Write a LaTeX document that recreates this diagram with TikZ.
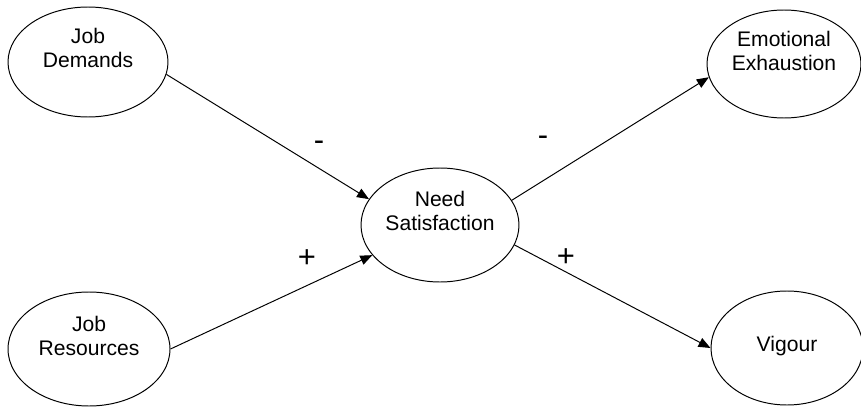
\documentclass[tikz,border=0pt]{standalone}
\usepackage{fontspec}
\setmainfont{Liberation Sans}
\usepackage{tikz}
\usetikzlibrary{shapes.geometric,arrows.meta,positioning,calc}
\tikzset{
    oval/.style={ellipse, draw=black, line width=0.7pt, inner sep=0pt},
    ovaltext/.style={align=center, font=\fontsize{15pt}{17.1pt}\selectfont},
    sign/.style={font=\fontsize{22pt}{24pt}\selectfont, inner sep=0pt},
    path/.style={draw=black, line width=0.7pt, -{Triangle[length=0.3cm,width=0.24cm]}},
}
\begin{document}
\begin{tikzpicture}
    \useasboundingbox (0,0) rectangle (21.525,10.15);

    % Constructs
    \node[oval, minimum width=4.0cm, minimum height=2.75cm] (jd) at (2.2, 8.6) {};
    \node[oval, minimum width=4.05cm, minimum height=2.85cm] (jr) at (2.225, 1.425) {};
    \node[oval, minimum width=3.95cm, minimum height=2.85cm] (ns) at (11.0, 4.525) {};
    \node[oval, minimum width=3.85cm, minimum height=2.7cm] (ee) at (19.6, 8.55) {};
    \node[oval, minimum width=3.8cm, minimum height=2.85cm] (vg) at (19.675, 1.45) {};

    % Names
    \node[ovaltext] (jd-txt) at ([yshift=0.35cm]jd.center) {Job\\Demands};
    \node[ovaltext] (jr-txt) at ([yshift=0.33cm]jr.center) {Job\\Resources};
    \node[ovaltext] (ns-txt) at ([yshift=0.35cm]ns.center) {Need\\Satisfaction};
    \node[ovaltext] (ee-txt) at ([yshift=0.33cm]ee.center) {Emotional\\Exhaustion};
    \node[ovaltext] (vg-txt) at ([yshift=0.05cm]vg.center) {Vigour};

    % Paths
    \draw[path] (jd.-9) -- (ns.160);
    \draw[path] (jr.0) -- (ns.204);
    \draw[path] (ns.19) -- (ee.190);
    \draw[path] (ns.-15) -- (vg.180);

    % Signs
    \foreach \n/\x/\y/\s in {jdsign/7.975/6.51/-, jrsign/7.675/3.68/+, eesign/13.575/6.635/-, vgsign/14.15/3.70/+} {
        \node[sign] (\n) at (\x, \y) {\s};
    }
\end{tikzpicture}
\end{document}
